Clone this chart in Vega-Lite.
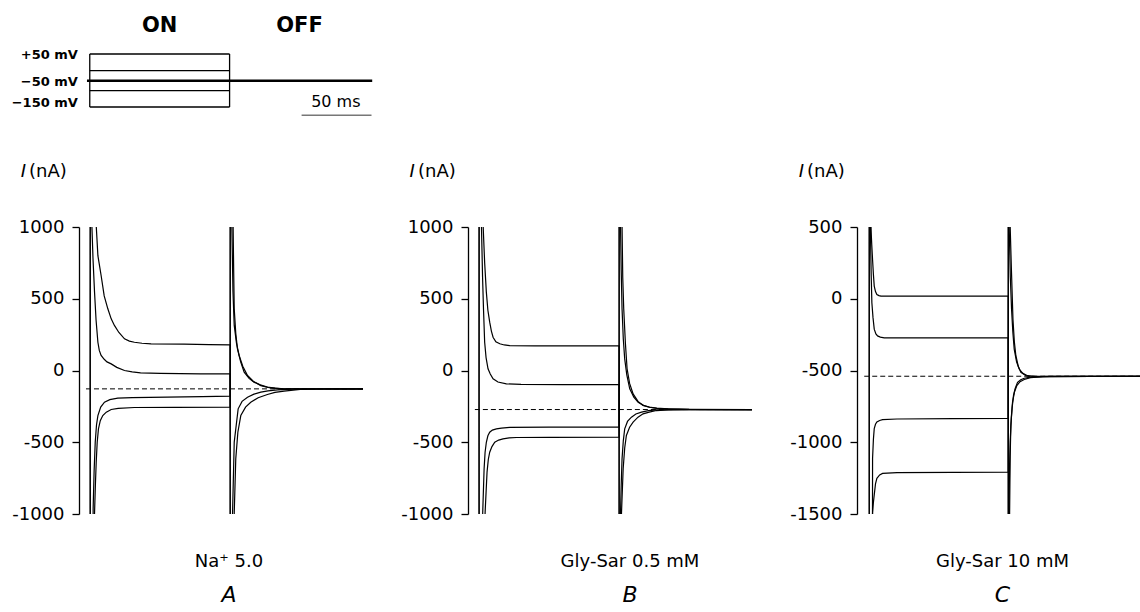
{
  "$schema": "https://vega.github.io/schema/vega-lite/v6.json",
  "background": "white",
  "padding": {"left": 11, "top": 14, "right": 0, "bottom": 0},
  "spacing": 47,
  "datasets": {
    "tr": [
      {"p":"A","s":"h","t":-3,"i":-128},{"p":"A","s":"h","t":197,"i":-128},
      {"p":"A","s":"p50","t":0,"i":-128},{"p":"A","s":"p50","t":0.15,"i":4000},{"p":"A","s":"p50","t":3.9,"i":4000},{"p":"A","s":"p50","t":4.3,"i":1010},{"p":"A","s":"p50","t":5.5,"i":800},{"p":"A","s":"p50","t":7.8,"i":662},{"p":"A","s":"p50","t":10,"i":520},{"p":"A","s":"p50","t":12.6,"i":430},{"p":"A","s":"p50","t":15,"i":360},{"p":"A","s":"p50","t":17.3,"i":314},{"p":"A","s":"p50","t":20.5,"i":265},{"p":"A","s":"p50","t":24.5,"i":221},{"p":"A","s":"p50","t":28,"i":205},{"p":"A","s":"p50","t":31.6,"i":197},{"p":"A","s":"p50","t":37,"i":190},{"p":"A","s":"p50","t":43.5,"i":186},{"p":"A","s":"p50","t":67,"i":184},{"p":"A","s":"p50","t":85,"i":181},{"p":"A","s":"p50","t":100,"i":179},{"p":"A","s":"p50","t":100.15,"i":-4000},{"p":"A","s":"p50","t":102.5,"i":-4000},{"p":"A","s":"p50","t":102.9,"i":-994},{"p":"A","s":"p50","t":104,"i":-616},{"p":"A","s":"p50","t":105.5,"i":-430},{"p":"A","s":"p50","t":107.6,"i":-314},{"p":"A","s":"p50","t":111,"i":-255},{"p":"A","s":"p50","t":114.7,"i":-221},{"p":"A","s":"p50","t":120,"i":-190},{"p":"A","s":"p50","t":126.6,"i":-167},{"p":"A","s":"p50","t":132,"i":-153},{"p":"A","s":"p50","t":138.5,"i":-144},{"p":"A","s":"p50","t":150,"i":-132},{"p":"A","s":"p50","t":165,"i":-129},{"p":"A","s":"p50","t":197,"i":-128},
      {"p":"A","s":"p0","t":0,"i":-128},{"p":"A","s":"p0","t":0.1,"i":4000},{"p":"A","s":"p0","t":1,"i":4000},{"p":"A","s":"p0","t":1.2,"i":1010},{"p":"A","s":"p0","t":2,"i":780},{"p":"A","s":"p0","t":3.1,"i":546},{"p":"A","s":"p0","t":4.2,"i":350},{"p":"A","s":"p0","t":5.5,"i":197},{"p":"A","s":"p0","t":6.5,"i":140},{"p":"A","s":"p0","t":7.8,"i":105},{"p":"A","s":"p0","t":10,"i":78},{"p":"A","s":"p0","t":12,"i":60},{"p":"A","s":"p0","t":15,"i":46},{"p":"A","s":"p0","t":19,"i":22},{"p":"A","s":"p0","t":24.5,"i":0},{"p":"A","s":"p0","t":30,"i":-10},{"p":"A","s":"p0","t":36,"i":-16},{"p":"A","s":"p0","t":50,"i":-20},{"p":"A","s":"p0","t":79,"i":-23},{"p":"A","s":"p0","t":100,"i":-24},{"p":"A","s":"p0","t":100.1,"i":-4000},{"p":"A","s":"p0","t":101.5,"i":-4000},{"p":"A","s":"p0","t":101.7,"i":-994},{"p":"A","s":"p0","t":102.9,"i":-499},{"p":"A","s":"p0","t":105.7,"i":-267},{"p":"A","s":"p0","t":108.5,"i":-215},{"p":"A","s":"p0","t":112.4,"i":-186},{"p":"A","s":"p0","t":117,"i":-165},{"p":"A","s":"p0","t":121.9,"i":-151},{"p":"A","s":"p0","t":127,"i":-142},{"p":"A","s":"p0","t":133.7,"i":-135},{"p":"A","s":"p0","t":145,"i":-130},{"p":"A","s":"p0","t":197,"i":-128},
      {"p":"A","s":"m100","t":0,"i":-128},{"p":"A","s":"m100","t":0.15,"i":-4000},{"p":"A","s":"m100","t":1.9,"i":-4000},{"p":"A","s":"m100","t":2.1,"i":-964},{"p":"A","s":"m100","t":2.8,"i":-700},{"p":"A","s":"m100","t":3.6,"i":-499},{"p":"A","s":"m100","t":4.5,"i":-380},{"p":"A","s":"m100","t":5.5,"i":-314},{"p":"A","s":"m100","t":7.5,"i":-255},{"p":"A","s":"m100","t":10.2,"i":-221},{"p":"A","s":"m100","t":14,"i":-203},{"p":"A","s":"m100","t":19.7,"i":-193},{"p":"A","s":"m100","t":30,"i":-189},{"p":"A","s":"m100","t":55,"i":-186},{"p":"A","s":"m100","t":80,"i":-182},{"p":"A","s":"m100","t":100,"i":-179},{"p":"A","s":"m100","t":100.15,"i":4000},{"p":"A","s":"m100","t":101,"i":4000},{"p":"A","s":"m100","t":101.2,"i":1010},{"p":"A","s":"m100","t":102,"i":550},{"p":"A","s":"m100","t":102.9,"i":314},{"p":"A","s":"m100","t":104.5,"i":190},{"p":"A","s":"m100","t":106.4,"i":105},{"p":"A","s":"m100","t":109,"i":30},{"p":"A","s":"m100","t":112.4,"i":-35},{"p":"A","s":"m100","t":116.5,"i":-75},{"p":"A","s":"m100","t":121.9,"i":-105},{"p":"A","s":"m100","t":128,"i":-120},{"p":"A","s":"m100","t":135,"i":-126},{"p":"A","s":"m100","t":150,"i":-128},{"p":"A","s":"m100","t":197,"i":-128},
      {"p":"A","s":"m150","t":0,"i":-128},{"p":"A","s":"m150","t":0.15,"i":-4000},{"p":"A","s":"m150","t":2.9,"i":-4000},{"p":"A","s":"m150","t":3.1,"i":-994},{"p":"A","s":"m150","t":3.7,"i":-800},{"p":"A","s":"m150","t":4.3,"i":-639},{"p":"A","s":"m150","t":5,"i":-500},{"p":"A","s":"m150","t":5.9,"i":-407},{"p":"A","s":"m150","t":7.2,"i":-350},{"p":"A","s":"m150","t":9,"i":-314},{"p":"A","s":"m150","t":11.5,"i":-290},{"p":"A","s":"m150","t":15,"i":-272},{"p":"A","s":"m150","t":20,"i":-264},{"p":"A","s":"m150","t":31.6,"i":-258},{"p":"A","s":"m150","t":60,"i":-257},{"p":"A","s":"m150","t":100,"i":-256},{"p":"A","s":"m150","t":100.15,"i":4000},{"p":"A","s":"m150","t":101.9,"i":4000},{"p":"A","s":"m150","t":102.1,"i":1010},{"p":"A","s":"m150","t":102.5,"i":700},{"p":"A","s":"m150","t":102.9,"i":430},{"p":"A","s":"m150","t":104,"i":260},{"p":"A","s":"m150","t":105.2,"i":151},{"p":"A","s":"m150","t":107.5,"i":60},{"p":"A","s":"m150","t":110,"i":-12},{"p":"A","s":"m150","t":113.5,"i":-55},{"p":"A","s":"m150","t":117,"i":-81},{"p":"A","s":"m150","t":121.5,"i":-100},{"p":"A","s":"m150","t":126.6,"i":-116},{"p":"A","s":"m150","t":132,"i":-123},{"p":"A","s":"m150","t":138.5,"i":-128},{"p":"A","s":"m150","t":197,"i":-128},

      {"p":"B","s":"h","t":-3,"i":-272},{"p":"B","s":"h","t":197,"i":-272},
      {"p":"B","s":"p50","t":0,"i":-272},{"p":"B","s":"p50","t":0.15,"i":4000},{"p":"B","s":"p50","t":2.7,"i":4000},{"p":"B","s":"p50","t":2.9,"i":1010},{"p":"B","s":"p50","t":4,"i":750},{"p":"B","s":"p50","t":5.2,"i":546},{"p":"B","s":"p50","t":6.3,"i":420},{"p":"B","s":"p50","t":7.6,"i":337},{"p":"B","s":"p50","t":8.8,"i":275},{"p":"B","s":"p50","t":10,"i":232},{"p":"B","s":"p50","t":12,"i":200},{"p":"B","s":"p50","t":14.8,"i":186},{"p":"B","s":"p50","t":18,"i":178},{"p":"B","s":"p50","t":21.9,"i":174},{"p":"B","s":"p50","t":40,"i":172},{"p":"B","s":"p50","t":70,"i":172},{"p":"B","s":"p50","t":100,"i":172},{"p":"B","s":"p50","t":100.15,"i":-4000},{"p":"B","s":"p50","t":101.5,"i":-4000},{"p":"B","s":"p50","t":101.7,"i":-994},{"p":"B","s":"p50","t":102.9,"i":-685},{"p":"B","s":"p50","t":104,"i":-540},{"p":"B","s":"p50","t":105.2,"i":-453},{"p":"B","s":"p50","t":107.5,"i":-395},{"p":"B","s":"p50","t":110,"i":-360},{"p":"B","s":"p50","t":113.5,"i":-325},{"p":"B","s":"p50","t":117.1,"i":-302},{"p":"B","s":"p50","t":121.5,"i":-290},{"p":"B","s":"p50","t":126.7,"i":-279},{"p":"B","s":"p50","t":135,"i":-275},{"p":"B","s":"p50","t":150,"i":-272},{"p":"B","s":"p50","t":197,"i":-272},
      {"p":"B","s":"p0","t":0,"i":-272},{"p":"B","s":"p0","t":0.1,"i":4000},{"p":"B","s":"p0","t":1.5,"i":4000},{"p":"B","s":"p0","t":1.7,"i":1010},{"p":"B","s":"p0","t":2.5,"i":650},{"p":"B","s":"p0","t":3.2,"i":420},{"p":"B","s":"p0","t":4,"i":197},{"p":"B","s":"p0","t":5,"i":90},{"p":"B","s":"p0","t":6.4,"i":12},{"p":"B","s":"p0","t":8,"i":-25},{"p":"B","s":"p0","t":10,"i":-58},{"p":"B","s":"p0","t":13.5,"i":-80},{"p":"B","s":"p0","t":19.5,"i":-93},{"p":"B","s":"p0","t":30,"i":-97},{"p":"B","s":"p0","t":60,"i":-98},{"p":"B","s":"p0","t":100,"i":-98},{"p":"B","s":"p0","t":100.1,"i":-4000},{"p":"B","s":"p0","t":100.8,"i":-4000},{"p":"B","s":"p0","t":101,"i":-994},{"p":"B","s":"p0","t":101.5,"i":-800},{"p":"B","s":"p0","t":102.1,"i":-616},{"p":"B","s":"p0","t":103,"i":-490},{"p":"B","s":"p0","t":104,"i":-407},{"p":"B","s":"p0","t":106,"i":-355},{"p":"B","s":"p0","t":108.8,"i":-325},{"p":"B","s":"p0","t":112,"i":-303},{"p":"B","s":"p0","t":116,"i":-290},{"p":"B","s":"p0","t":121,"i":-280},{"p":"B","s":"p0","t":126.7,"i":-274},{"p":"B","s":"p0","t":140,"i":-272},{"p":"B","s":"p0","t":197,"i":-272},
      {"p":"B","s":"m100","t":0,"i":-272},{"p":"B","s":"m100","t":0.15,"i":-4000},{"p":"B","s":"m100","t":2.4,"i":-4000},{"p":"B","s":"m100","t":2.6,"i":-994},{"p":"B","s":"m100","t":3.6,"i":-685},{"p":"B","s":"m100","t":4.3,"i":-570},{"p":"B","s":"m100","t":5.2,"i":-500},{"p":"B","s":"m100","t":6.3,"i":-455},{"p":"B","s":"m100","t":7.6,"i":-430},{"p":"B","s":"m100","t":9.5,"i":-415},{"p":"B","s":"m100","t":12.4,"i":-407},{"p":"B","s":"m100","t":16,"i":-401},{"p":"B","s":"m100","t":21.9,"i":-397},{"p":"B","s":"m100","t":50,"i":-395},{"p":"B","s":"m100","t":100,"i":-395},{"p":"B","s":"m100","t":100.15,"i":4000},{"p":"B","s":"m100","t":100.8,"i":4000},{"p":"B","s":"m100","t":101,"i":1010},{"p":"B","s":"m100","t":101.5,"i":700},{"p":"B","s":"m100","t":102.1,"i":430},{"p":"B","s":"m100","t":103,"i":220},{"p":"B","s":"m100","t":104,"i":81},{"p":"B","s":"m100","t":105.5,"i":-30},{"p":"B","s":"m100","t":107.6,"i":-128},{"p":"B","s":"m100","t":110.5,"i":-185},{"p":"B","s":"m100","t":113.6,"i":-221},{"p":"B","s":"m100","t":117.5,"i":-243},{"p":"B","s":"m100","t":121.9,"i":-256},{"p":"B","s":"m100","t":127,"i":-264},{"p":"B","s":"m100","t":133.8,"i":-267},{"p":"B","s":"m100","t":150,"i":-271},{"p":"B","s":"m100","t":197,"i":-272},
      {"p":"B","s":"m150","t":0,"i":-272},{"p":"B","s":"m150","t":0.15,"i":-4000},{"p":"B","s":"m150","t":4.1,"i":-4000},{"p":"B","s":"m150","t":4.3,"i":-994},{"p":"B","s":"m150","t":5,"i":-850},{"p":"B","s":"m150","t":5.7,"i":-708},{"p":"B","s":"m150","t":6.6,"i":-620},{"p":"B","s":"m150","t":7.6,"i":-569},{"p":"B","s":"m150","t":9.2,"i":-530},{"p":"B","s":"m150","t":11.2,"i":-500},{"p":"B","s":"m150","t":14,"i":-485},{"p":"B","s":"m150","t":17.1,"i":-476},{"p":"B","s":"m150","t":21.5,"i":-470},{"p":"B","s":"m150","t":26.7,"i":-467},{"p":"B","s":"m150","t":50,"i":-466},{"p":"B","s":"m150","t":100,"i":-465},{"p":"B","s":"m150","t":100.15,"i":4000},{"p":"B","s":"m150","t":101.9,"i":4000},{"p":"B","s":"m150","t":102.1,"i":1010},{"p":"B","s":"m150","t":102.6,"i":650},{"p":"B","s":"m150","t":103.3,"i":430},{"p":"B","s":"m150","t":104.5,"i":190},{"p":"B","s":"m150","t":105.7,"i":12},{"p":"B","s":"m150","t":107.5,"i":-90},{"p":"B","s":"m150","t":110,"i":-163},{"p":"B","s":"m150","t":113.5,"i":-215},{"p":"B","s":"m150","t":117.1,"i":-244},{"p":"B","s":"m150","t":121.5,"i":-255},{"p":"B","s":"m150","t":126.7,"i":-262},{"p":"B","s":"m150","t":135,"i":-268},{"p":"B","s":"m150","t":150,"i":-271},{"p":"B","s":"m150","t":197,"i":-272},

      {"p":"C","s":"h","t":-3.6,"i":-540},{"p":"C","s":"h","t":197,"i":-540},
      {"p":"C","s":"p50","t":0,"i":-540},{"p":"C","s":"p50","t":0.1,"i":3000},{"p":"C","s":"p50","t":0.8,"i":3000},{"p":"C","s":"p50","t":1.2,"i":503},{"p":"C","s":"p50","t":1.8,"i":380},{"p":"C","s":"p50","t":2.4,"i":272},{"p":"C","s":"p50","t":3,"i":170},{"p":"C","s":"p50","t":3.6,"i":88},{"p":"C","s":"p50","t":4.5,"i":50},{"p":"C","s":"p50","t":5.5,"i":30},{"p":"C","s":"p50","t":7,"i":22},{"p":"C","s":"p50","t":8.4,"i":18},{"p":"C","s":"p50","t":30,"i":18},{"p":"C","s":"p50","t":100,"i":18},{"p":"C","s":"p50","t":100.1,"i":-4000},{"p":"C","s":"p50","t":100.8,"i":-4000},{"p":"C","s":"p50","t":101,"i":-1489},{"p":"C","s":"p50","t":101.4,"i":-1100},{"p":"C","s":"p50","t":101.9,"i":-882},{"p":"C","s":"p50","t":102.8,"i":-760},{"p":"C","s":"p50","t":103.8,"i":-674},{"p":"C","s":"p50","t":105,"i":-625},{"p":"C","s":"p50","t":106.7,"i":-582},{"p":"C","s":"p50","t":109,"i":-565},{"p":"C","s":"p50","t":111.5,"i":-554},{"p":"C","s":"p50","t":115,"i":-548},{"p":"C","s":"p50","t":118.7,"i":-545},{"p":"C","s":"p50","t":130,"i":-541},{"p":"C","s":"p50","t":197,"i":-540},
      {"p":"C","s":"p0","t":0,"i":-540},{"p":"C","s":"p0","t":0.1,"i":3000},{"p":"C","s":"p0","t":0.8,"i":3000},{"p":"C","s":"p0","t":1,"i":388},{"p":"C","s":"p0","t":1.4,"i":170},{"p":"C","s":"p0","t":1.9,"i":-28},{"p":"C","s":"p0","t":2.7,"i":-130},{"p":"C","s":"p0","t":3.6,"i":-212},{"p":"C","s":"p0","t":4.8,"i":-245},{"p":"C","s":"p0","t":6,"i":-259},{"p":"C","s":"p0","t":8,"i":-267},{"p":"C","s":"p0","t":10.8,"i":-272},{"p":"C","s":"p0","t":40,"i":-272},{"p":"C","s":"p0","t":100,"i":-272},{"p":"C","s":"p0","t":100.1,"i":-4000},{"p":"C","s":"p0","t":100.4,"i":-4000},{"p":"C","s":"p0","t":100.5,"i":-1489},{"p":"C","s":"p0","t":101,"i":-1150},{"p":"C","s":"p0","t":101.4,"i":-997},{"p":"C","s":"p0","t":102.2,"i":-830},{"p":"C","s":"p0","t":103.1,"i":-720},{"p":"C","s":"p0","t":104.5,"i":-650},{"p":"C","s":"p0","t":106.2,"i":-605},{"p":"C","s":"p0","t":108.5,"i":-578},{"p":"C","s":"p0","t":111.5,"i":-563},{"p":"C","s":"p0","t":116,"i":-550},{"p":"C","s":"p0","t":125,"i":-543},{"p":"C","s":"p0","t":197,"i":-540},
      {"p":"C","s":"m100","t":0,"i":-540},{"p":"C","s":"m100","t":0.1,"i":-4000},{"p":"C","s":"m100","t":2,"i":-4000},{"p":"C","s":"m100","t":2.4,"i":-1113},{"p":"C","s":"m100","t":3,"i":-980},{"p":"C","s":"m100","t":3.6,"i":-905},{"p":"C","s":"m100","t":4.5,"i":-875},{"p":"C","s":"m100","t":5.5,"i":-859},{"p":"C","s":"m100","t":7.5,"i":-848},{"p":"C","s":"m100","t":9.6,"i":-843},{"p":"C","s":"m100","t":20,"i":-838},{"p":"C","s":"m100","t":60,"i":-836},{"p":"C","s":"m100","t":100,"i":-834},{"p":"C","s":"m100","t":100.1,"i":3000},{"p":"C","s":"m100","t":100.5,"i":3000},{"p":"C","s":"m100","t":100.7,"i":503},{"p":"C","s":"m100","t":101.5,"i":150},{"p":"C","s":"m100","t":102.4,"i":-74},{"p":"C","s":"m100","t":103.3,"i":-230},{"p":"C","s":"m100","t":104.3,"i":-351},{"p":"C","s":"m100","t":106,"i":-440},{"p":"C","s":"m100","t":107.9,"i":-490},{"p":"C","s":"m100","t":110.5,"i":-520},{"p":"C","s":"m100","t":113.9,"i":-536},{"p":"C","s":"m100","t":120,"i":-540},{"p":"C","s":"m100","t":197,"i":-540},
      {"p":"C","s":"m150","t":0,"i":-540},{"p":"C","s":"m150","t":0.1,"i":-4000},{"p":"C","s":"m150","t":2.2,"i":-4000},{"p":"C","s":"m150","t":2.4,"i":-1489},{"p":"C","s":"m150","t":3,"i":-1420},{"p":"C","s":"m150","t":3.6,"i":-1367},{"p":"C","s":"m150","t":4.5,"i":-1290},{"p":"C","s":"m150","t":5.5,"i":-1251},{"p":"C","s":"m150","t":7.5,"i":-1228},{"p":"C","s":"m150","t":9.6,"i":-1217},{"p":"C","s":"m150","t":20,"i":-1212},{"p":"C","s":"m150","t":60,"i":-1210},{"p":"C","s":"m150","t":100,"i":-1208},{"p":"C","s":"m150","t":100.1,"i":3000},{"p":"C","s":"m150","t":101.2,"i":3000},{"p":"C","s":"m150","t":101.4,"i":503},{"p":"C","s":"m150","t":102.3,"i":200},{"p":"C","s":"m150","t":103.4,"i":-143},{"p":"C","s":"m150","t":104.4,"i":-300},{"p":"C","s":"m150","t":105.5,"i":-397},{"p":"C","s":"m150","t":107.2,"i":-470},{"p":"C","s":"m150","t":109.1,"i":-513},{"p":"C","s":"m150","t":112.5,"i":-535},{"p":"C","s":"m150","t":116.3,"i":-545},{"p":"C","s":"m150","t":125,"i":-542},{"p":"C","s":"m150","t":197,"i":-540}
    ],
    "box": [
      {"t0":0,"t1":100,"v0":50,"v1":50},
      {"t0":0,"t1":100,"v0":0,"v1":0},
      {"t0":0,"t1":100,"v0":-100,"v1":-100},
      {"t0":0,"t1":100,"v0":-150,"v1":-150},
      {"t0":0,"t1":0,"v0":-150,"v1":50},
      {"t0":100,"t1":100,"v0":-150,"v1":50}
    ]
  },
  "vconcat": [
    {
      "width": 296,
      "height": 53,
      "layer": [
        {
          "data": {"name": "box"},
          "mark": {"type": "rule", "color": "black", "strokeWidth": 1.3},
          "encoding": {
            "x": {"field": "t0", "type": "quantitative", "scale": {"domain": [-7.7, 204], "nice": false, "zero": false}, "axis": null},
            "x2": {"field": "t1"},
            "y": {"field": "v0", "type": "quantitative", "scale": {"domain": [-150, -100, -50, 0, 50], "range": [53, 36.7, 26.7, 16.7, 0], "nice": false, "zero": false}, "axis": null},
            "y2": {"field": "v1"}
          }
        },
        {
          "data": {"values": [{"t0": -2, "t1": 202, "v0": -50, "v1": -50}]},
          "mark": {"type": "rule", "color": "black", "strokeWidth": 2.5},
          "encoding": {
            "x": {"field": "t0", "type": "quantitative", "scale": {"domain": [-7.7, 204], "nice": false, "zero": false}},
            "x2": {"field": "t1"},
            "y": {"field": "v0", "type": "quantitative", "scale": {"domain": [-150, -100, -50, 0, 50], "range": [53, 36.7, 26.7, 16.7, 0], "nice": false, "zero": false}},
            "y2": {"field": "v1"}
          }
        },
        {
          "data": {"values": [{"lab": "+50 mV", "v": 50}, {"lab": "−50 mV", "v": -50}]},
          "mark": {"type": "text", "align": "right", "baseline": "middle", "fontWeight": "bold", "fontSize": 13, "dy": 1, "color": "black", "font": "DejaVu Sans"},
          "encoding": {
            "x": {"datum": -8.5, "type": "quantitative", "scale": {"domain": [-7.7, 204], "nice": false, "zero": false}},
            "y": {"field": "v", "type": "quantitative", "scale": {"domain": [-150, -100, -50, 0, 50], "range": [53, 36.7, 26.7, 16.7, 0], "nice": false, "zero": false}},
            "text": {"field": "lab"}
          }
        },
        {
          "data": {"values": [{"lab": "−150 mV", "v": -150}]},
          "mark": {"type": "text", "align": "right", "baseline": "middle", "fontWeight": "bold", "fontSize": 13, "dy": -4, "color": "black", "font": "DejaVu Sans"},
          "encoding": {
            "x": {"datum": -8.5, "type": "quantitative", "scale": {"domain": [-7.7, 204], "nice": false, "zero": false}},
            "y": {"field": "v", "type": "quantitative", "scale": {"domain": [-150, -100, -50, 0, 50], "range": [53, 36.7, 26.7, 16.7, 0], "nice": false, "zero": false}},
            "text": {"field": "lab"}
          }
        },
        {
          "data": {"values": [{"lab": "ON", "t": 50}, {"lab": "OFF", "t": 150}]},
          "mark": {"type": "text", "align": "center", "baseline": "middle", "fontWeight": "bold", "fontSize": 21, "color": "black", "font": "DejaVu Sans"},
          "encoding": {
            "x": {"field": "t", "type": "quantitative", "scale": {"domain": [-7.7, 204], "nice": false, "zero": false}},
            "y": {"datum": 134, "type": "quantitative", "scale": {"domain": [-150, -100, -50, 0, 50], "range": [53, 36.7, 26.7, 16.7, 0], "nice": false, "zero": false}},
            "text": {"field": "lab"}
          }
        },
        {
          "data": {"values": [{"lab": "50 ms", "t": 176}]},
          "mark": {"type": "text", "align": "center", "baseline": "alphabetic", "fontSize": 16, "color": "black", "font": "DejaVu Sans"},
          "encoding": {
            "x": {"field": "t", "type": "quantitative", "scale": {"domain": [-7.7, 204], "nice": false, "zero": false}},
            "y": {"datum": -150, "type": "quantitative", "scale": {"domain": [-150, -100, -50, 0, 50], "range": [53, 36.7, 26.7, 16.7, 0], "nice": false, "zero": false}},
            "text": {"field": "lab"}
          }
        },
        {
          "data": {"values": [{"t0": 151.5, "t1": 201.5}]},
          "mark": {"type": "rule", "color": "#777777", "strokeWidth": 1.5},
          "encoding": {
            "x": {"field": "t0", "type": "quantitative", "scale": {"domain": [-7.7, 204], "nice": false, "zero": false}},
            "x2": {"field": "t1"},
            "y": {"datum": -175, "type": "quantitative", "scale": {"domain": [-150, -100, -50, 0, 50], "range": [53, 36.7, 26.7, 16.7, 0], "nice": false, "zero": false}}
          }
        }
      ]
    },
    {
      "spacing": 37,
      "hconcat": [
        {
          "width": 284,
          "height": 287,
          "title": {"text": "Na⁺ 5.0", "subtitle": "A", "dx": 8},
          "layer": [
            {
              "data": {"name": "tr"},
              "transform": [{"filter": "datum.p === 'A' && datum.s !== 'h'"}],
              "mark": {"type": "line", "clip": true, "color": "black", "strokeWidth": 1.2},
              "encoding": {
                "x": {"field": "t", "type": "quantitative", "scale": {"domain": [-8, 194.9], "nice": false, "zero": false}, "axis": null},
                "y": {"field": "i", "type": "quantitative", "scale": {"domain": [-1000, 1000], "nice": false, "zero": false}, "axis": {"values": [-1000, -500, 0, 500, 1000], "title": null}},
                "detail": {"field": "s"}
              }
            },
            {
              "data": {"name": "tr"},
              "transform": [{"filter": "datum.p === 'A' && datum.s === 'h'"}],
              "mark": {"type": "line", "clip": true, "color": "black", "strokeWidth": 1, "strokeDash": [5, 3]},
              "encoding": {
                "x": {"field": "t", "type": "quantitative", "scale": {"domain": [-8, 194.9], "nice": false, "zero": false}},
                "y": {"field": "i", "type": "quantitative", "scale": {"domain": [-1000, 1000], "nice": false, "zero": false}}
              }
            },
            {
              "data": {"values": [{"lab": "I"}]},
              "mark": {"type": "text", "align": "right", "baseline": "middle", "fontSize": 18, "fontStyle": "italic", "color": "black", "font": "DejaVu Sans"},
              "encoding": {
                "x": {"datum": -45.9, "type": "quantitative", "scale": {"domain": [-8, 194.9], "nice": false, "zero": false}},
                "y": {"datum": 1383, "type": "quantitative", "scale": {"domain": [-1000, 1000], "nice": false, "zero": false}},
                "text": {"field": "lab"}
              }
            },
            {
              "data": {"values": [{"lab": "(nA)"}]},
              "mark": {"type": "text", "align": "left", "baseline": "middle", "fontSize": 18, "color": "black", "font": "DejaVu Sans"},
              "encoding": {
                "x": {"datum": -43.7, "type": "quantitative", "scale": {"domain": [-8, 194.9], "nice": false, "zero": false}},
                "y": {"datum": 1383, "type": "quantitative", "scale": {"domain": [-1000, 1000], "nice": false, "zero": false}},
                "text": {"field": "lab"}
              }
            }
          ]
        },
        {
          "width": 284,
          "height": 287,
          "title": {"text": "Gly-Sar 0.5 mM", "subtitle": "B", "dx": 20},
          "layer": [
            {
              "data": {"name": "tr"},
              "transform": [{"filter": "datum.p === 'B' && datum.s !== 'h'"}],
              "mark": {"type": "line", "clip": true, "color": "black", "strokeWidth": 1.2},
              "encoding": {
                "x": {"field": "t", "type": "quantitative", "scale": {"domain": [-7.9, 194.9], "nice": false, "zero": false}, "axis": null},
                "y": {"field": "i", "type": "quantitative", "scale": {"domain": [-1000, 1000], "nice": false, "zero": false}, "axis": {"values": [-1000, -500, 0, 500, 1000], "title": null}},
                "detail": {"field": "s"}
              }
            },
            {
              "data": {"name": "tr"},
              "transform": [{"filter": "datum.p === 'B' && datum.s === 'h'"}],
              "mark": {"type": "line", "clip": true, "color": "black", "strokeWidth": 1, "strokeDash": [5, 3]},
              "encoding": {
                "x": {"field": "t", "type": "quantitative", "scale": {"domain": [-7.9, 194.9], "nice": false, "zero": false}},
                "y": {"field": "i", "type": "quantitative", "scale": {"domain": [-1000, 1000], "nice": false, "zero": false}}
              }
            },
            {
              "data": {"values": [{"lab": "I"}]},
              "mark": {"type": "text", "align": "right", "baseline": "middle", "fontSize": 18, "fontStyle": "italic", "color": "black", "font": "DejaVu Sans"},
              "encoding": {
                "x": {"datum": -45.8, "type": "quantitative", "scale": {"domain": [-7.9, 194.9], "nice": false, "zero": false}},
                "y": {"datum": 1383, "type": "quantitative", "scale": {"domain": [-1000, 1000], "nice": false, "zero": false}},
                "text": {"field": "lab"}
              }
            },
            {
              "data": {"values": [{"lab": "(nA)"}]},
              "mark": {"type": "text", "align": "left", "baseline": "middle", "fontSize": 18, "color": "black", "font": "DejaVu Sans"},
              "encoding": {
                "x": {"datum": -43.6, "type": "quantitative", "scale": {"domain": [-7.9, 194.9], "nice": false, "zero": false}},
                "y": {"datum": 1383, "type": "quantitative", "scale": {"domain": [-1000, 1000], "nice": false, "zero": false}},
                "text": {"field": "lab"}
              }
            }
          ]
        },
        {
          "width": 283,
          "height": 287,
          "title": {"text": "Gly-Sar 10 mM", "subtitle": "C", "dx": 4},
          "layer": [
            {
              "data": {"name": "tr"},
              "transform": [{"filter": "datum.p === 'C' && datum.s !== 'h'"}],
              "mark": {"type": "line", "clip": true, "color": "black", "strokeWidth": 1.2},
              "encoding": {
                "x": {"field": "t", "type": "quantitative", "scale": {"domain": [-8.8, 194.8], "nice": false, "zero": false}, "axis": null},
                "y": {"field": "i", "type": "quantitative", "scale": {"domain": [-1500, 500], "nice": false, "zero": false}, "axis": {"values": [-1500, -1000, -500, 0, 500], "title": null}},
                "detail": {"field": "s"}
              }
            },
            {
              "data": {"name": "tr"},
              "transform": [{"filter": "datum.p === 'C' && datum.s === 'h'"}],
              "mark": {"type": "line", "clip": true, "color": "black", "strokeWidth": 1, "strokeDash": [5, 3]},
              "encoding": {
                "x": {"field": "t", "type": "quantitative", "scale": {"domain": [-8.8, 194.8], "nice": false, "zero": false}},
                "y": {"field": "i", "type": "quantitative", "scale": {"domain": [-1500, 500], "nice": false, "zero": false}}
              }
            },
            {
              "data": {"values": [{"lab": "I"}]},
              "mark": {"type": "text", "align": "right", "baseline": "middle", "fontSize": 18, "fontStyle": "italic", "color": "black", "font": "DejaVu Sans"},
              "encoding": {
                "x": {"datum": -46.9, "type": "quantitative", "scale": {"domain": [-8.8, 194.8], "nice": false, "zero": false}},
                "y": {"datum": 883, "type": "quantitative", "scale": {"domain": [-1500, 500], "nice": false, "zero": false}},
                "text": {"field": "lab"}
              }
            },
            {
              "data": {"values": [{"lab": "(nA)"}]},
              "mark": {"type": "text", "align": "left", "baseline": "middle", "fontSize": 18, "color": "black", "font": "DejaVu Sans"},
              "encoding": {
                "x": {"datum": -44.7, "type": "quantitative", "scale": {"domain": [-8.8, 194.8], "nice": false, "zero": false}},
                "y": {"datum": 883, "type": "quantitative", "scale": {"domain": [-1500, 500], "nice": false, "zero": false}},
                "text": {"field": "lab"}
              }
            }
          ]
        }
      ]
    }
  ],
  "config": {
    "view": {"stroke": null},
    "font": "DejaVu Sans",
    "axis": {
      "domainColor": "black",
      "domainWidth": 1.3,
      "tickColor": "black",
      "tickWidth": 1.3,
      "tickSize": 7,
      "labelFont": "DejaVu Sans",
      "labelFontSize": 18,
      "labelColor": "black",
      "labelPadding": 8,
      "labelExpr": "'' + datum.value",
      "grid": false
    },
    "title": {
      "font": "DejaVu Sans",
      "fontSize": 18,
      "fontWeight": "normal",
      "color": "black",
      "subtitleFont": "DejaVu Sans",
      "subtitleFontSize": 22,
      "subtitleFontStyle": "italic",
      "subtitleColor": "black",
      "orient": "bottom",
      "anchor": "middle",
      "offset": 30,
      "subtitlePadding": 14
    }
  }
}
